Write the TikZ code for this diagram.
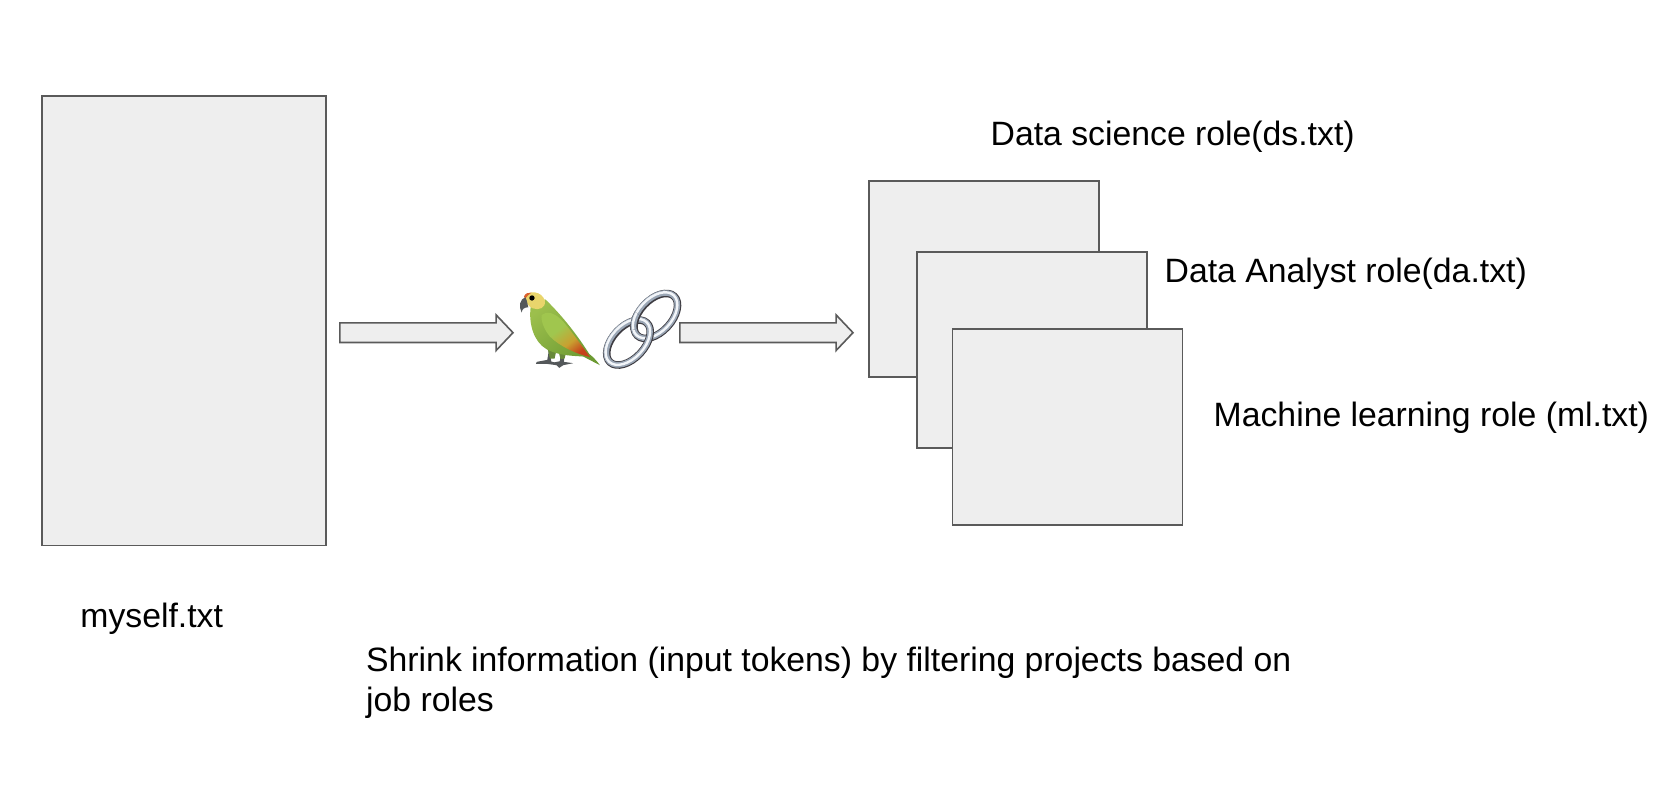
\documentclass[tikz,border=0pt]{standalone}
\usepackage{fontspec}
\setmainfont{Liberation Sans}
\usetikzlibrary{shapes.arrows}
\definecolor{boxfill}{HTML}{EEEEEE}
\definecolor{boxline}{HTML}{5A5A5A}
\definecolor{wingleaf}{HTML}{A0C64E}
\definecolor{wingamber}{HTML}{C9A030}
\definecolor{wingred}{HTML}{C5421B}
\definecolor{bodyleaf}{HTML}{9CBF4C}
\definecolor{bodymoss}{HTML}{6C9A32}
\definecolor{headgold}{HTML}{E9D56C}
\definecolor{headred}{HTML}{D9602F}
\definecolor{beakgrey}{HTML}{54585A}
\definecolor{legmoss}{HTML}{68893A}
\definecolor{steeldark}{HTML}{3E3C42}
\definecolor{steelmid}{HTML}{9AA6B5}
\definecolor{steellight}{HTML}{F2F5F9}
\pgfdeclarehorizontalshading{wingshade}{100bp}{color(0bp)=(wingleaf); color(42bp)=(wingleaf); color(60bp)=(wingamber); color(74bp)=(wingred); color(100bp)=(wingred)}
\tikzset{
  docbox/.style={draw=boxline, fill=boxfill, line width=0.016cm, inner sep=0, outer sep=0},
  flowarrow/.style={single arrow, draw=boxline, fill=boxfill, line width=0.016cm, inner xsep=0, inner ysep=0.09cm, outer sep=0,
    minimum height=1.73cm, single arrow head extend=0.08cm, single arrow tip angle=93, anchor=tip},
  caption/.style={font=\fontsize{9.6}{11.38}\selectfont, inner sep=0, anchor=base west, align=left},
  linkdark/.style={draw=steeldark, line width=0.075cm},
  linkmid/.style={draw=steelmid, line width=0.056cm},
  linklight/.style={draw=steellight, line width=0.024cm}
}
\newcommand{\chainlink}[3]{
  \draw[linkdark, shift={(#1,#2)}, rotate=#3] (0,0) ellipse [x radius=81, y radius=48];
  \draw[linkmid, shift={(#1-1,#2-1)}, rotate=#3] (0,0) ellipse [x radius=81, y radius=49];
  \draw[linklight, shift={(#1-2,#2-2)}, rotate=#3] (0,0) ellipse [x radius=82, y radius=50];
}
\begin{document}
\begin{tikzpicture}[x=0.01cm, y=-0.01cm]
  \useasboundingbox (0,0) rectangle (1666,794);
  \node[docbox, minimum width=2.84cm, minimum height=4.49cm] (myself) at (184,320.7) {};
  \node[docbox, minimum width=2.30cm, minimum height=1.955cm] (dsrole) at (984,279) {};
  \node[docbox, minimum width=2.30cm, minimum height=1.955cm] (darole) at (1032,350) {};
  \node[docbox, minimum width=2.30cm, minimum height=1.955cm] (mlrole) at (1067.5,427) {};

  \node[flowarrow] (toparrot) at (513,332.7) {};
  \node[flowarrow] (toroles) at (853,332.7) {};

  \node[caption] (mytext) at (79.7,627) {myself.txt};
  \node[caption] (dstext) at (990,145.5) {Data science role(ds.txt)};
  \node[caption] (datext) at (1164,282) {Data Analyst role(da.txt)};
  \node[caption] (mltext) at (1213,426) {Machine learning role (ml.txt)};
  \node[caption] (shrink) at (365.5,711.7) {Shrink information (input tokens) by filtering projects based on\\job roles};

  \begin{scope}[shift={(510,280)}, x=0.003333cm, y=-0.003333cm]
    % parrot
    \fill[beakgrey] (118,205) -- (112,240) -- (80,246) -- (78,252) -- (110,252) -- (140,256) -- (142,250) -- (124,245) -- cycle;
    \fill[beakgrey] (152,215) -- (150,244) -- (122,250) -- (140,256) -- (148,264) -- (160,256) -- (190,250) -- (162,246) -- (164,215) -- cycle;
    \fill[legmoss] (108,185) -- (120,236) -- (134,236) -- (142,200) -- cycle;
    \fill[legmoss] (142,200) -- (152,238) -- (164,236) -- (172,205) -- cycle;
    \shade[left color=bodyleaf, right color=bodymoss, shading angle=40]
      (62,82) .. controls (56,130) and (70,185) .. (110,208) .. controls (145,228) and (195,228) .. (220,230)
      -- (270,256) .. controls (255,235) and (245,228) .. (238,222)
      .. controls (205,170) and (160,110) .. (106,58) -- cycle;
    \shade[shading=wingshade, shading angle=-52]
      (95,105) .. controls (110,92) and (135,98) .. (160,125) .. controls (190,160) and (220,205) .. (241,232)
      .. controls (200,222) and (150,200) .. (120,170) .. controls (105,152) and (92,125) .. (95,105) -- cycle;
    \fill[headgold] (44,50) .. controls (55,30) and (95,32) .. (105,62)
      .. controls (108,85) and (85,92) .. (68,85) .. controls (55,80) and (45,65) .. (44,50) -- cycle;
    \fill[headred] (42,50) .. controls (45,40) and (55,37) .. (64,38) .. controls (55,44) and (50,50) .. (46,56) -- cycle;
    \fill[beakgrey] (46,52) .. controls (30,56) and (25,80) .. (35,98) .. controls (36,88) and (42,82) .. (55,82)
      .. controls (52,72) and (52,62) .. (46,52) -- cycle;
    \fill[black] (66,54) circle [radius=8];
    % chain
    \chainlink{438}{108}{47}
    \chainlink{356}{188}{47}
    \begin{scope}
      \clip (365,122) circle [radius=28];
      \chainlink{438}{108}{47}
    \end{scope}
  \end{scope}
\end{tikzpicture}
\end{document}
